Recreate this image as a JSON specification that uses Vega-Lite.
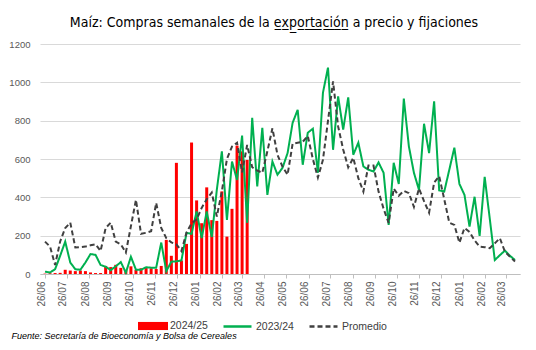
{
"$schema":"https://vega.github.io/schema/vega-lite/v6.json",
"width":480,"height":230,
"autosize":{"type":"none"},
"padding":{"left":40,"top":44,"right":16,"bottom":76},
"background":"white",
"title":{"text":"Maíz: Compras semanales de la e̲x̲p̲o̲r̲t̲a̲c̲i̲ó̲n̲ a precio y fijaciones","font":"Liberation Sans Narrow, DejaVu Sans Condensed, sans-serif","fontSize":14,"fontWeight":"normal","color":"#000000","anchor":"middle","frame":"group","offset":19,"baseline":"alphabetic","dx":-6,"dy":21},
"datasets":{
"barras":[
{"fecha":"2024-06-26","serie":"2024/25","valor":2},{"fecha":"2024-07-03","serie":"2024/25","valor":4},{"fecha":"2024-07-10","serie":"2024/25","valor":5},{"fecha":"2024-07-17","serie":"2024/25","valor":6},{"fecha":"2024-07-24","serie":"2024/25","valor":22},{"fecha":"2024-07-31","serie":"2024/25","valor":18},{"fecha":"2024-08-07","serie":"2024/25","valor":15},{"fecha":"2024-08-14","serie":"2024/25","valor":18},{"fecha":"2024-08-21","serie":"2024/25","valor":15},{"fecha":"2024-08-28","serie":"2024/25","valor":8},{"fecha":"2024-09-04","serie":"2024/25","valor":5},{"fecha":"2024-09-11","serie":"2024/25","valor":5},{"fecha":"2024-09-18","serie":"2024/25","valor":42},{"fecha":"2024-09-25","serie":"2024/25","valor":36},{"fecha":"2024-10-02","serie":"2024/25","valor":48},{"fecha":"2024-10-09","serie":"2024/25","valor":32},{"fecha":"2024-10-16","serie":"2024/25","valor":20},{"fecha":"2024-10-23","serie":"2024/25","valor":40},{"fecha":"2024-10-30","serie":"2024/25","valor":22},{"fecha":"2024-11-06","serie":"2024/25","valor":30},{"fecha":"2024-11-13","serie":"2024/25","valor":31},{"fecha":"2024-11-20","serie":"2024/25","valor":30},{"fecha":"2024-11-27","serie":"2024/25","valor":26},{"fecha":"2024-12-04","serie":"2024/25","valor":42},{"fecha":"2024-12-11","serie":"2024/25","valor":178},{"fecha":"2024-12-18","serie":"2024/25","valor":95},{"fecha":"2024-12-25","serie":"2024/25","valor":580},{"fecha":"2025-01-01","serie":"2024/25","valor":70},{"fecha":"2025-01-08","serie":"2024/25","valor":157},{"fecha":"2025-01-15","serie":"2024/25","valor":686},{"fecha":"2025-01-22","serie":"2024/25","valor":384},{"fecha":"2025-01-29","serie":"2024/25","valor":265},{"fecha":"2025-02-05","serie":"2024/25","valor":452},{"fecha":"2025-02-12","serie":"2024/25","valor":281},{"fecha":"2025-02-19","serie":"2024/25","valor":277},{"fecha":"2025-02-26","serie":"2024/25","valor":431},{"fecha":"2025-03-05","serie":"2024/25","valor":195},{"fecha":"2025-03-12","serie":"2024/25","valor":340},{"fecha":"2025-03-19","serie":"2024/25","valor":670},{"fecha":"2025-03-26","serie":"2024/25","valor":640},{"fecha":"2025-04-02","serie":"2024/25","valor":595}
],
"lineas":[
{"fecha":"2024-06-26","serie":"2023/24","valor":12},{"fecha":"2024-07-03","serie":"2023/24","valor":8},{"fecha":"2024-07-10","serie":"2023/24","valor":25},{"fecha":"2024-07-17","serie":"2023/24","valor":95},{"fecha":"2024-07-24","serie":"2023/24","valor":169},{"fecha":"2024-07-31","serie":"2023/24","valor":60},{"fecha":"2024-08-07","serie":"2023/24","valor":25},{"fecha":"2024-08-14","serie":"2023/24","valor":22},{"fecha":"2024-08-21","serie":"2023/24","valor":60},{"fecha":"2024-08-28","serie":"2023/24","valor":104},{"fecha":"2024-09-04","serie":"2023/24","valor":100},{"fecha":"2024-09-11","serie":"2023/24","valor":47},{"fecha":"2024-09-18","serie":"2023/24","valor":38},{"fecha":"2024-09-25","serie":"2023/24","valor":20},{"fecha":"2024-10-02","serie":"2023/24","valor":40},{"fecha":"2024-10-09","serie":"2023/24","valor":62},{"fecha":"2024-10-16","serie":"2023/24","valor":7},{"fecha":"2024-10-23","serie":"2023/24","valor":90},{"fecha":"2024-10-30","serie":"2023/24","valor":22},{"fecha":"2024-11-06","serie":"2023/24","valor":22},{"fecha":"2024-11-13","serie":"2023/24","valor":35},{"fecha":"2024-11-20","serie":"2023/24","valor":33},{"fecha":"2024-11-27","serie":"2023/24","valor":33},{"fecha":"2024-12-04","serie":"2023/24","valor":164},{"fecha":"2024-12-11","serie":"2023/24","valor":15},{"fecha":"2024-12-18","serie":"2023/24","valor":64},{"fecha":"2024-12-25","serie":"2023/24","valor":66},{"fecha":"2025-01-01","serie":"2023/24","valor":71},{"fecha":"2025-01-08","serie":"2023/24","valor":214},{"fecha":"2025-01-15","serie":"2023/24","valor":210},{"fecha":"2025-01-22","serie":"2023/24","valor":326},{"fecha":"2025-01-29","serie":"2023/24","valor":188},{"fecha":"2025-02-05","serie":"2023/24","valor":326},{"fecha":"2025-02-12","serie":"2023/24","valor":193},{"fecha":"2025-02-19","serie":"2023/24","valor":440},{"fecha":"2025-02-26","serie":"2023/24","valor":640},{"fecha":"2025-03-05","serie":"2023/24","valor":282},{"fecha":"2025-03-12","serie":"2023/24","valor":587},{"fecha":"2025-03-19","serie":"2023/24","valor":491},{"fecha":"2025-03-26","serie":"2023/24","valor":722},{"fecha":"2025-04-02","serie":"2023/24","valor":267},{"fecha":"2025-04-09","serie":"2023/24","valor":815},{"fecha":"2025-04-16","serie":"2023/24","valor":457},{"fecha":"2025-04-23","serie":"2023/24","valor":763},{"fecha":"2025-04-30","serie":"2023/24","valor":413},{"fecha":"2025-05-07","serie":"2023/24","valor":587},{"fecha":"2025-05-14","serie":"2023/24","valor":518},{"fecha":"2025-05-21","serie":"2023/24","valor":554},{"fecha":"2025-05-28","serie":"2023/24","valor":631},{"fecha":"2025-06-04","serie":"2023/24","valor":789},{"fecha":"2025-06-11","serie":"2023/24","valor":857},{"fecha":"2025-06-18","serie":"2023/24","valor":570},{"fecha":"2025-06-25","serie":"2023/24","valor":737},{"fecha":"2025-07-02","serie":"2023/24","valor":758},{"fecha":"2025-07-09","serie":"2023/24","valor":528},{"fecha":"2025-07-16","serie":"2023/24","valor":946},{"fecha":"2025-07-23","serie":"2023/24","valor":1077},{"fecha":"2025-07-30","serie":"2023/24","valor":648},{"fecha":"2025-08-06","serie":"2023/24","valor":927},{"fecha":"2025-08-13","serie":"2023/24","valor":753},{"fecha":"2025-08-20","serie":"2023/24","valor":922},{"fecha":"2025-08-27","serie":"2023/24","valor":622},{"fecha":"2025-09-03","serie":"2023/24","valor":685},{"fecha":"2025-09-10","serie":"2023/24","valor":561},{"fecha":"2025-09-17","serie":"2023/24","valor":544},{"fecha":"2025-09-24","serie":"2023/24","valor":535},{"fecha":"2025-10-01","serie":"2023/24","valor":582},{"fecha":"2025-10-08","serie":"2023/24","valor":528},{"fecha":"2025-10-15","serie":"2023/24","valor":256},{"fecha":"2025-10-22","serie":"2023/24","valor":580},{"fecha":"2025-10-29","serie":"2023/24","valor":470},{"fecha":"2025-11-05","serie":"2023/24","valor":915},{"fecha":"2025-11-12","serie":"2023/24","valor":666},{"fecha":"2025-11-19","serie":"2023/24","valor":528},{"fecha":"2025-11-26","serie":"2023/24","valor":439},{"fecha":"2025-12-03","serie":"2023/24","valor":784},{"fecha":"2025-12-10","serie":"2023/24","valor":631},{"fecha":"2025-12-17","serie":"2023/24","valor":901},{"fecha":"2025-12-24","serie":"2023/24","valor":436},{"fecha":"2025-12-31","serie":"2023/24","valor":430},{"fecha":"2026-01-07","serie":"2023/24","valor":544},{"fecha":"2026-01-14","serie":"2023/24","valor":659},{"fecha":"2026-01-21","serie":"2023/24","valor":470},{"fecha":"2026-01-28","serie":"2023/24","valor":413},{"fecha":"2026-02-04","serie":"2023/24","valor":247},{"fecha":"2026-02-11","serie":"2023/24","valor":403},{"fecha":"2026-02-18","serie":"2023/24","valor":199},{"fecha":"2026-02-25","serie":"2023/24","valor":507},{"fecha":"2026-03-04","serie":"2023/24","valor":290},{"fecha":"2026-03-11","serie":"2023/24","valor":73},{"fecha":"2026-03-18","serie":"2023/24","valor":98},{"fecha":"2026-03-25","serie":"2023/24","valor":122},{"fecha":"2026-04-01","serie":"2023/24","valor":95},{"fecha":"2026-04-08","serie":"2023/24","valor":73},
{"fecha":"2024-06-26","serie":"Promedio","valor":169},{"fecha":"2024-07-03","serie":"Promedio","valor":143},{"fecha":"2024-07-10","serie":"Promedio","valor":47},{"fecha":"2024-07-17","serie":"Promedio","valor":170},{"fecha":"2024-07-24","serie":"Promedio","valor":240},{"fecha":"2024-07-31","serie":"Promedio","valor":268},{"fecha":"2024-08-07","serie":"Promedio","valor":138},{"fecha":"2024-08-14","serie":"Promedio","valor":140},{"fecha":"2024-08-21","serie":"Promedio","valor":143},{"fecha":"2024-08-28","serie":"Promedio","valor":150},{"fecha":"2024-09-04","serie":"Promedio","valor":155},{"fecha":"2024-09-11","serie":"Promedio","valor":120},{"fecha":"2024-09-18","serie":"Promedio","valor":240},{"fecha":"2024-09-25","serie":"Promedio","valor":268},{"fecha":"2024-10-02","serie":"Promedio","valor":169},{"fecha":"2024-10-09","serie":"Promedio","valor":155},{"fecha":"2024-10-16","serie":"Promedio","valor":112},{"fecha":"2024-10-23","serie":"Promedio","valor":250},{"fecha":"2024-10-30","serie":"Promedio","valor":387},{"fecha":"2024-11-06","serie":"Promedio","valor":210},{"fecha":"2024-11-13","serie":"Promedio","valor":215},{"fecha":"2024-11-20","serie":"Promedio","valor":223},{"fecha":"2024-11-27","serie":"Promedio","valor":371},{"fecha":"2024-12-04","serie":"Promedio","valor":240},{"fecha":"2024-12-11","serie":"Promedio","valor":187},{"fecha":"2024-12-18","serie":"Promedio","valor":165},{"fecha":"2024-12-25","serie":"Promedio","valor":155},{"fecha":"2025-01-01","serie":"Promedio","valor":120},{"fecha":"2025-01-08","serie":"Promedio","valor":216},{"fecha":"2025-01-15","serie":"Promedio","valor":265},{"fecha":"2025-01-22","serie":"Promedio","valor":285},{"fecha":"2025-01-29","serie":"Promedio","valor":345},{"fecha":"2025-02-05","serie":"Promedio","valor":390},{"fecha":"2025-02-12","serie":"Promedio","valor":425},{"fecha":"2025-02-19","serie":"Promedio","valor":300},{"fecha":"2025-02-26","serie":"Promedio","valor":432},{"fecha":"2025-03-05","serie":"Promedio","valor":600},{"fecha":"2025-03-12","serie":"Promedio","valor":665},{"fecha":"2025-03-19","serie":"Promedio","valor":685},{"fecha":"2025-03-26","serie":"Promedio","valor":530},{"fecha":"2025-04-02","serie":"Promedio","valor":673},{"fecha":"2025-04-09","serie":"Promedio","valor":557},{"fecha":"2025-04-16","serie":"Promedio","valor":540},{"fecha":"2025-04-23","serie":"Promedio","valor":528},{"fecha":"2025-04-30","serie":"Promedio","valor":640},{"fecha":"2025-05-07","serie":"Promedio","valor":760},{"fecha":"2025-05-14","serie":"Promedio","valor":622},{"fecha":"2025-05-21","serie":"Promedio","valor":560},{"fecha":"2025-05-28","serie":"Promedio","valor":518},{"fecha":"2025-06-04","serie":"Promedio","valor":680},{"fecha":"2025-06-11","serie":"Promedio","valor":685},{"fecha":"2025-06-18","serie":"Promedio","valor":690},{"fecha":"2025-06-25","serie":"Promedio","valor":720},{"fecha":"2025-07-02","serie":"Promedio","valor":600},{"fecha":"2025-07-09","serie":"Promedio","valor":503},{"fecha":"2025-07-16","serie":"Promedio","valor":596},{"fecha":"2025-07-23","serie":"Promedio","valor":800},{"fecha":"2025-07-30","serie":"Promedio","valor":1005},{"fecha":"2025-08-06","serie":"Promedio","valor":770},{"fecha":"2025-08-13","serie":"Promedio","valor":650},{"fecha":"2025-08-20","serie":"Promedio","valor":556},{"fecha":"2025-08-27","serie":"Promedio","valor":606},{"fecha":"2025-09-03","serie":"Promedio","valor":500},{"fecha":"2025-09-10","serie":"Promedio","valor":430},{"fecha":"2025-09-17","serie":"Promedio","valor":566},{"fecha":"2025-09-24","serie":"Promedio","valor":566},{"fecha":"2025-10-01","serie":"Promedio","valor":430},{"fecha":"2025-10-08","serie":"Promedio","valor":340},{"fecha":"2025-10-15","serie":"Promedio","valor":266},{"fecha":"2025-10-22","serie":"Promedio","valor":446},{"fecha":"2025-10-29","serie":"Promedio","valor":408},{"fecha":"2025-11-05","serie":"Promedio","valor":434},{"fecha":"2025-11-12","serie":"Promedio","valor":422},{"fecha":"2025-11-19","serie":"Promedio","valor":350},{"fecha":"2025-11-26","serie":"Promedio","valor":446},{"fecha":"2025-12-03","serie":"Promedio","valor":380},{"fecha":"2025-12-10","serie":"Promedio","valor":320},{"fecha":"2025-12-17","serie":"Promedio","valor":477},{"fecha":"2025-12-24","serie":"Promedio","valor":510},{"fecha":"2025-12-31","serie":"Promedio","valor":390},{"fecha":"2026-01-07","serie":"Promedio","valor":268},{"fecha":"2026-01-14","serie":"Promedio","valor":256},{"fecha":"2026-01-21","serie":"Promedio","valor":163},{"fecha":"2026-01-28","serie":"Promedio","valor":240},{"fecha":"2026-02-04","serie":"Promedio","valor":220},{"fecha":"2026-02-11","serie":"Promedio","valor":175},{"fecha":"2026-02-18","serie":"Promedio","valor":143},{"fecha":"2026-02-25","serie":"Promedio","valor":140},{"fecha":"2026-03-04","serie":"Promedio","valor":135},{"fecha":"2026-03-11","serie":"Promedio","valor":160},{"fecha":"2026-03-18","serie":"Promedio","valor":187},{"fecha":"2026-03-25","serie":"Promedio","valor":117},{"fecha":"2026-04-01","serie":"Promedio","valor":90},{"fecha":"2026-04-08","serie":"Promedio","valor":65}
]
},
"layer":[
{
"data":{"name":"barras"},
"mark":{"type":"bar","size":3},
"encoding":{
"x":{"field":"fecha","type":"temporal","scale":{"type":"utc","domain":[{"year":2024,"month":6,"date":26,"utc":true},{"year":2026,"month":4,"date":8,"utc":true}]},
"axis":{"values":[{"year":2024,"month":6,"date":26,"utc":true},{"year":2024,"month":7,"date":26,"utc":true},{"year":2024,"month":8,"date":26,"utc":true},{"year":2024,"month":9,"date":26,"utc":true},{"year":2024,"month":10,"date":26,"utc":true},{"year":2024,"month":11,"date":26,"utc":true},{"year":2024,"month":12,"date":26,"utc":true},{"year":2025,"month":1,"date":26,"utc":true},{"year":2025,"month":2,"date":26,"utc":true},{"year":2025,"month":3,"date":26,"utc":true},{"year":2025,"month":4,"date":26,"utc":true},{"year":2025,"month":5,"date":26,"utc":true},{"year":2025,"month":6,"date":26,"utc":true},{"year":2025,"month":7,"date":26,"utc":true},{"year":2025,"month":8,"date":26,"utc":true},{"year":2025,"month":9,"date":26,"utc":true},{"year":2025,"month":10,"date":26,"utc":true},{"year":2025,"month":11,"date":26,"utc":true},{"year":2025,"month":12,"date":26,"utc":true},{"year":2026,"month":1,"date":26,"utc":true},{"year":2026,"month":2,"date":26,"utc":true},{"year":2026,"month":3,"date":26,"utc":true}],
"tickCount":60,
"format":"%d/%m","labelOverlap":false,"labelAngle":270,"labelAlign":"right","labelBaseline":"middle","labelOffset":-4,
"title":"Fuente: Secretaría de Bioeconomía y Bolsa de Cereales"}},
"y":{"field":"valor","type":"quantitative","scale":{"domain":[0,1200],"nice":false},
"axis":{"tickCount":6,"format":"d","title":null,"labelOverlap":false}},
"fill":{"field":"serie","type":"nominal","scale":{"domain":["2024/25"],"range":["#ff0000"]},
"legend":{"title":null,"orient":"none","legendX":98,"legendY":267,"direction":"horizontal","symbolType":"M-1,-0.27H1V0.27H-1Z","symbolSize":900,"symbolStrokeWidth":0,"labelFontSize":10.5,"labelColor":"#404040","labelOffset":2,"padding":0}}
}
},
{
"data":{"name":"lineas"},
"mark":{"type":"line","strokeWidth":2,"interpolate":"linear"},
"encoding":{
"x":{"field":"fecha","type":"temporal"},
"y":{"field":"valor","type":"quantitative"},
"stroke":{"field":"serie","type":"nominal","scale":{"domain":["2023/24","Promedio"],"range":["#00b050","#404040"]},
"legend":{"title":null,"orient":"none","legendX":182,"legendY":267,"direction":"horizontal","symbolType":"stroke","symbolSize":784,"symbolStrokeWidth":2.5,"labelFontSize":10.5,"labelColor":"#404040","labelOffset":3,"columnPadding":10,"gridAlign":"none","padding":0}},
"strokeDash":{"field":"serie","type":"nominal","scale":{"domain":["2023/24","Promedio"],"range":[[1,0],[5,3]]},
"legend":{"title":null,"orient":"none","legendX":182,"legendY":267,"direction":"horizontal","symbolType":"stroke","symbolSize":784,"symbolStrokeWidth":2.5,"labelFontSize":10.5,"labelColor":"#404040","labelOffset":3,"columnPadding":10,"gridAlign":"none","padding":0}}
}
}
],
"config":{"view":{"stroke":null},
"axis":{"labelFont":"Liberation Sans","titleFont":"Liberation Sans","labelOverlap":false},
"axisX":{"labelFontSize":10,"labelColor":"#595959","domainColor":"#bfbfbf","tickColor":"#bfbfbf","tickSize":4,"labelPadding":3,"grid":false,"labelSeparation":0,"labelFlush":false,"titleFontStyle":"italic","titleFontWeight":"normal","titleFontSize":9,"titleColor":"#000000","titleAnchor":"start","titleAlign":"left","titleX":-29,"titleY":64,"titleBaseline":"alphabetic"},
"axisY":{"domain":false,"ticks":false,"gridColor":"#d9d9d9","labelPadding":10,"labelFontSize":9.5,"labelColor":"#595959"},
"legend":{"labelFont":"Liberation Sans"}}
}
